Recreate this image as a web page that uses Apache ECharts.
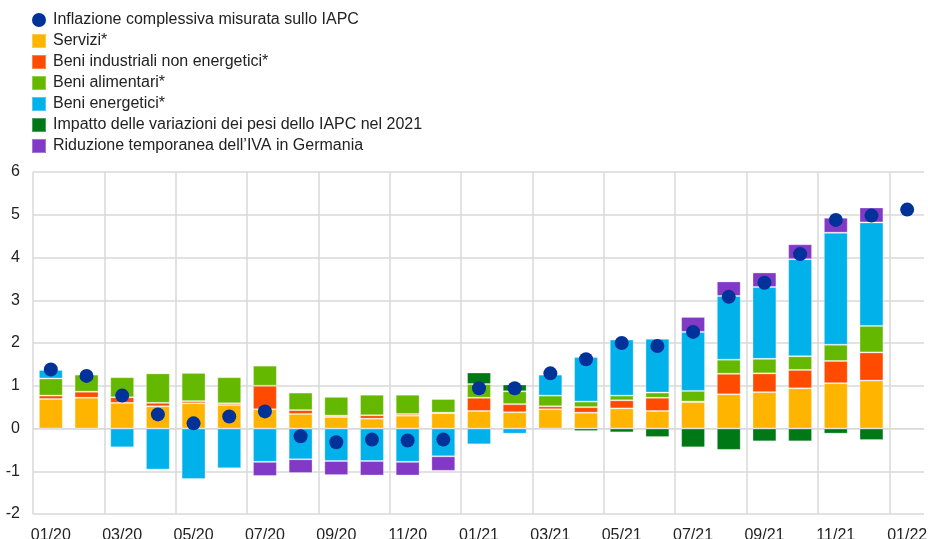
<!DOCTYPE html>
<html>
<head>
<meta charset="utf-8">
<script src="https://cdn.jsdelivr.net/npm/echarts@6/dist/echarts.min.js"></script>
<style>html,body{margin:0;padding:0;background:#fff;}#c{width:928px;height:539px;}</style>
</head>
<body>
<div id="c"></div>
<script>
const categories = ['01/20','02/20','03/20','04/20','05/20','06/20','07/20','08/20','09/20','10/20','11/20','12/20',
  '01/21','02/21','03/21','04/21','05/21','06/21','07/21','08/21','09/21','10/21','11/21','12/21','01/22'];
const yTicks = [-2,-1,0,1,2,3,4,5,6];
const hicp     = [1.38,1.23,0.77,0.33,0.12,0.28,0.40,-0.18,-0.32,-0.26,-0.28,-0.26,0.94,0.94,1.29,1.62,2.00,1.93,2.26,3.08,3.41,4.08,4.88,4.98,5.12];
const services = [0.69,0.72,0.60,0.52,0.59,0.55,0.45,0.34,0.27,0.23,0.30,0.36,0.41,0.38,0.45,0.37,0.47,0.41,0.62,0.80,0.85,0.94,1.06,1.12,null];
const neig     = [0.08,0.14,0.13,0.08,0.05,0.04,0.55,0.09,0.03,0.08,0.04,0.01,0.31,0.19,0.07,0.13,0.19,0.31,0.01,0.48,0.44,0.43,0.52,0.66,null];
const food     = [0.40,0.40,0.47,0.69,0.66,0.61,0.47,0.41,0.44,0.48,0.45,0.32,0.32,0.30,0.25,0.13,0.11,0.12,0.25,0.33,0.34,0.32,0.38,0.62,null];
const energy   = [0.20,-0.03,-0.44,-0.96,-1.18,-0.93,-0.78,-0.72,-0.76,-0.76,-0.78,-0.65,-0.37,-0.12,0.49,1.04,1.31,1.26,1.38,1.49,1.68,2.27,2.62,2.42,null];
const weights  = [null,null,null,null,null,null,null,null,null,null,null,null,0.27,0.16,0.01,-0.06,-0.09,-0.20,-0.44,-0.50,-0.30,-0.30,-0.12,-0.27,null];
const vat      = [null,null,null,null,null,null,-0.33,-0.32,-0.33,-0.34,-0.32,-0.34,null,null,null,null,null,null,0.35,0.34,0.34,0.35,0.35,0.35,null];

const names = ['Inflazione complessiva misurata sullo IAPC','Servizi*','Beni industriali non energetici*','Beni alimentari*','Beni energetici*','Impatto delle variazioni dei pesi dello IAPC nel 2021','Riduzione temporanea dell\u2019IVA in Germania'];
const colors = ['#003299','#ffb400','#ff4b00','#65b800','#00b1ea','#007816','#8139c6'];
const barData = [services, neig, food, energy, weights, vat];

const font = 'Liberation Sans, Arial, sans-serif';
const barSeries = barData.map((d, i) => ({
  name: names[i+1], type: 'bar', stack: 'tot', data: d, barWidth: '67%',
  itemStyle: { color: colors[i+1], borderColor: 'rgba(255,255,255,0.3)', borderWidth: 1 },
  emphasis: { disabled: true }
}));

const chart = echarts.init(document.getElementById('c'), null, { renderer: 'canvas' });
chart.setOption({
  animation: false,
  textStyle: { fontFamily: font },
  legend: {
    orient: 'vertical', left: 26, top: 6.5, itemWidth: 14, itemHeight: 14, itemGap: 4,
    textStyle: { fontSize: 16, lineHeight: 17, color: '#222', fontFamily: font, padding: [0,0,0,2] },
    data: names.map((n, i) => ({ name: n, icon: i === 0 ? 'circle' : 'rect' }))
  },
  grid: { left: 33, right: 3, top: 172, bottom: 25, containLabel: false, outerBoundsMode: 'none' },
  xAxis: {
    type: 'category', data: categories, boundaryGap: true,
    axisLine: { show: true, lineStyle: { color: '#d9d9d9', width: 1 } },
    axisTick: { show: false, interval: 1 },
    axisLabel: { interval: 1, fontSize: 16, color: '#222', margin: 14, fontFamily: font },
    splitLine: { show: true, interval: 1, lineStyle: { color: '#d9d9d9', width: 1.5 } }
  },
  yAxis: {
    type: 'value', min: -2, max: 6, interval: 1,
    axisLine: { show: false }, axisTick: { show: false },
    axisLabel: { fontSize: 16, color: '#222', margin: 13, fontFamily: font,
      formatter: v => yTicks.includes(v) ? String(v) : '' },
    splitLine: { lineStyle: { color: '#d9d9d9', width: 1.5 } }
  },
  graphic: [{ type: 'rect', left: 924, top: 168, shape: { width: 4, height: 350 },
    style: { fill: '#ffffff' }, z: 100 }],
  series: [
    ...barSeries,
    { name: names[0], type: 'scatter', data: hicp, symbol: 'circle', symbolSize: 14, z: 10,
      itemStyle: { color: colors[0], opacity: 1 }, emphasis: { disabled: true } }
  ]
});
</script>
</body>
</html>
